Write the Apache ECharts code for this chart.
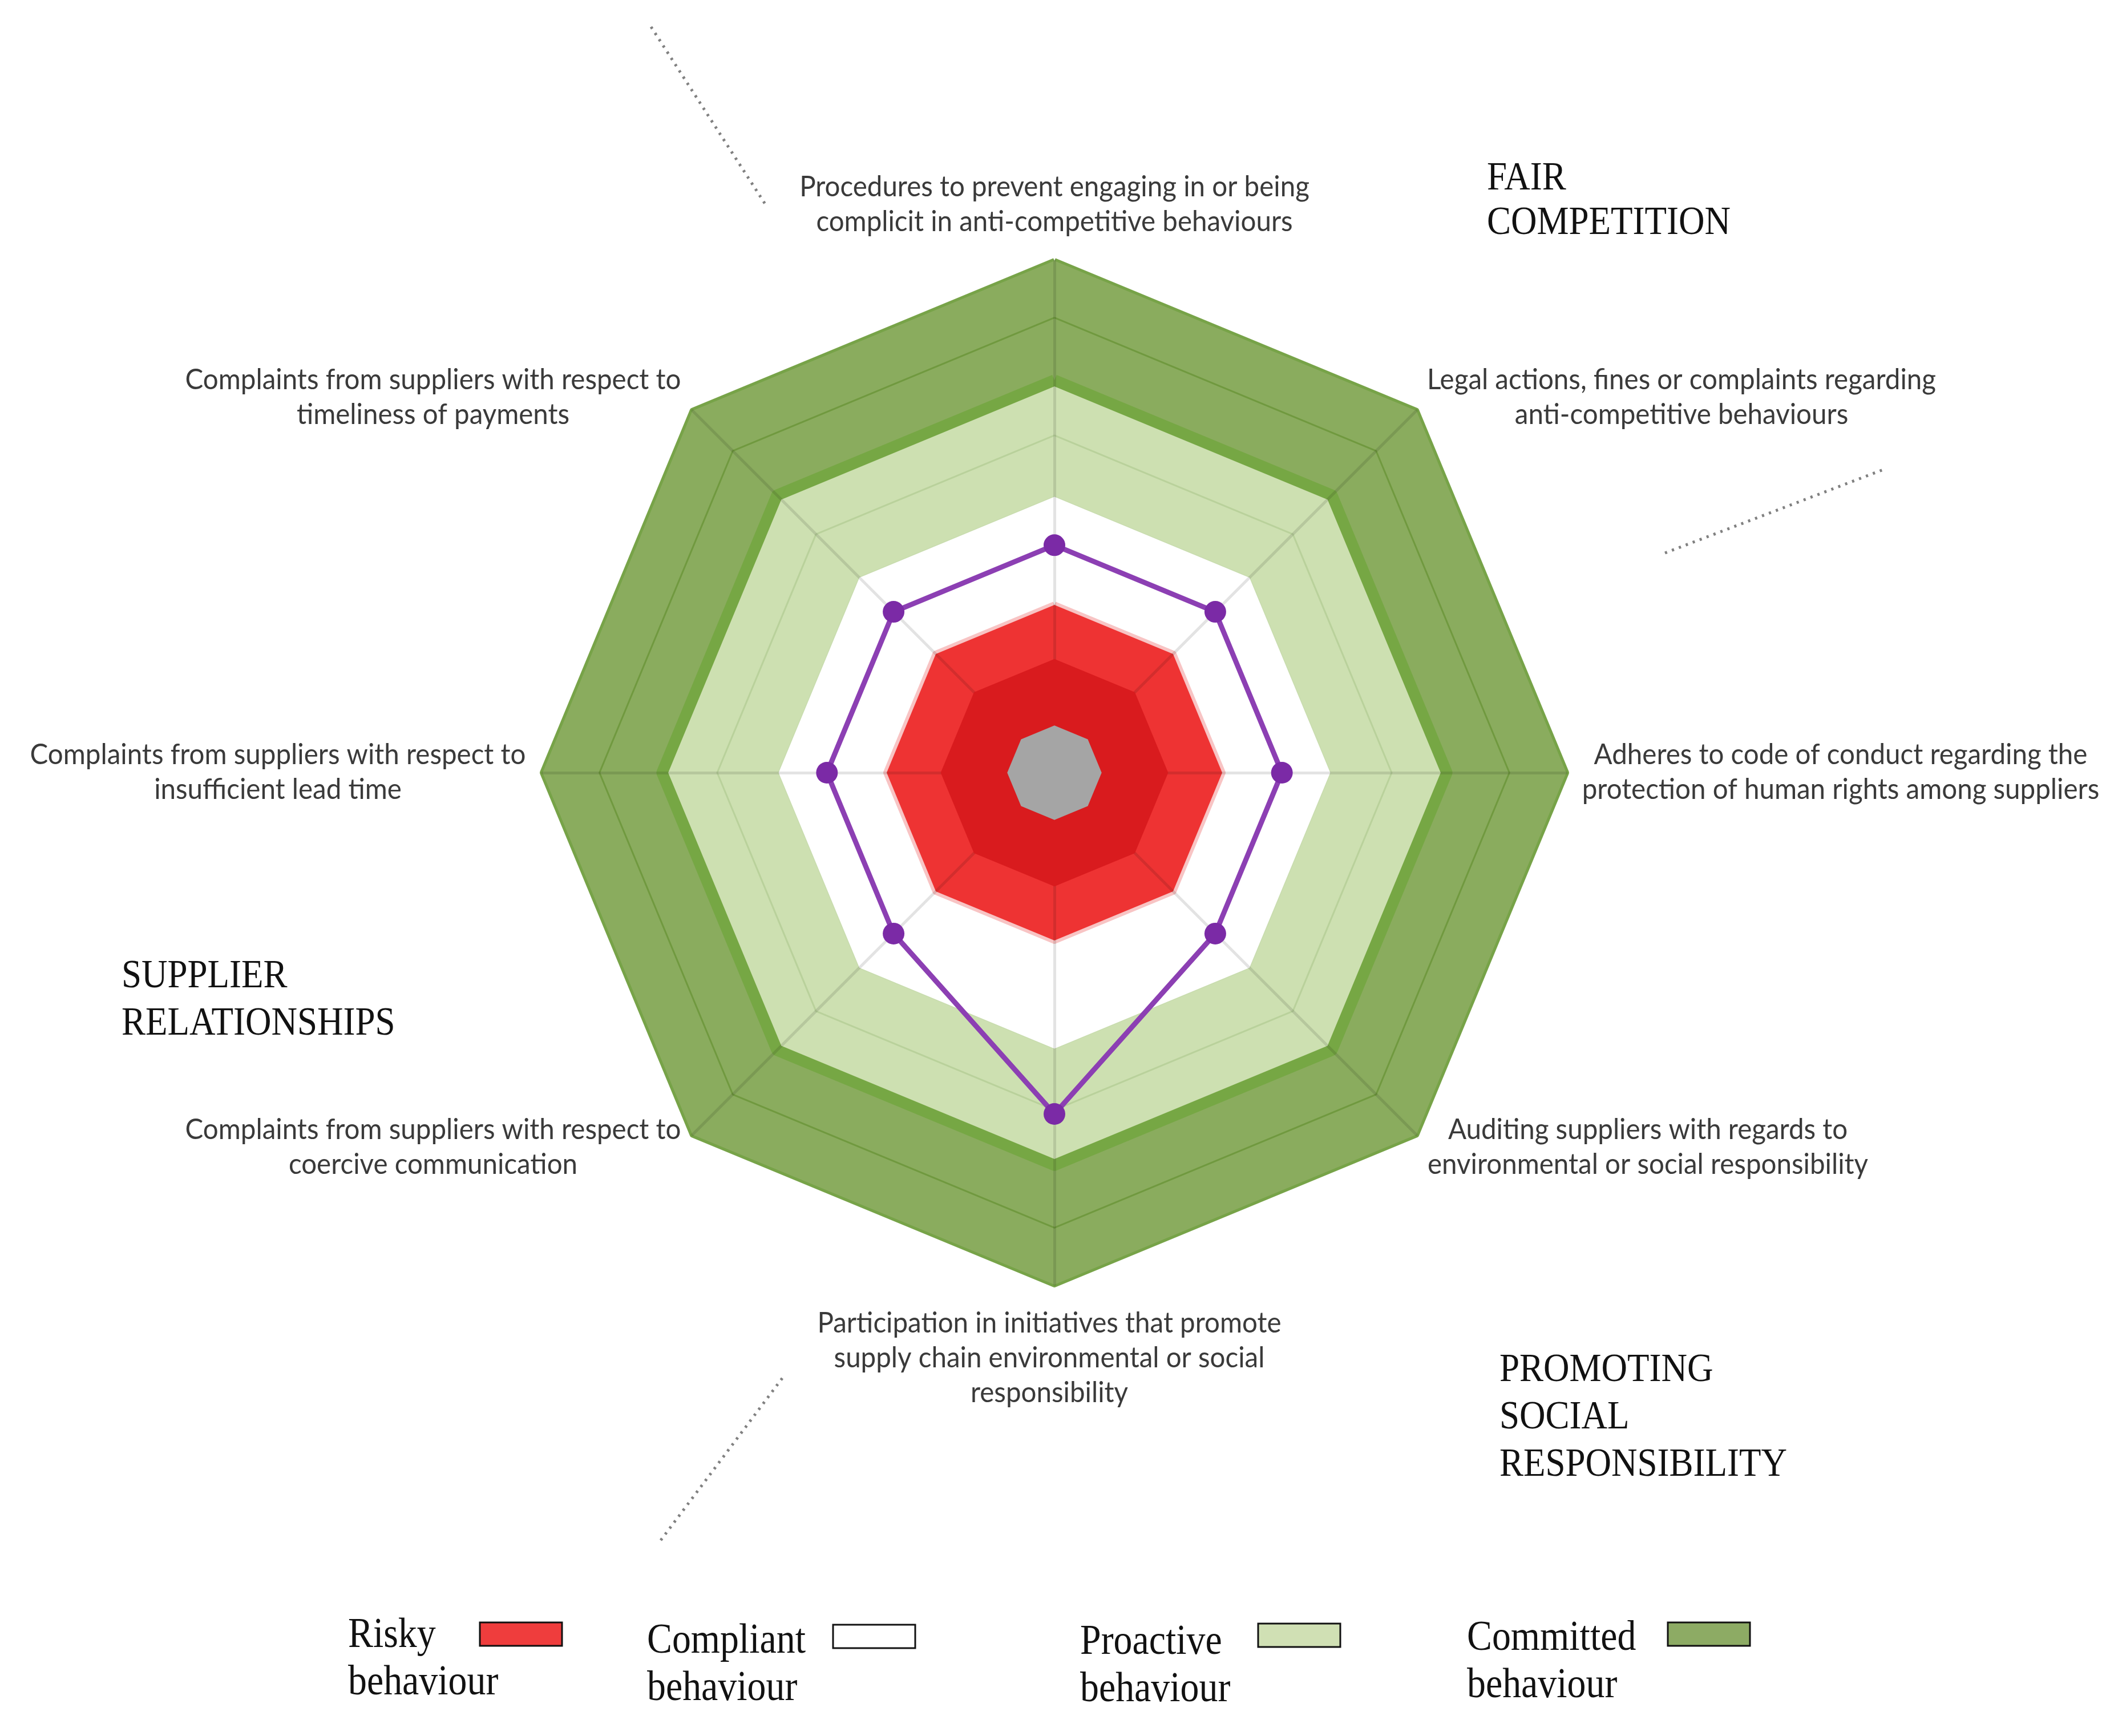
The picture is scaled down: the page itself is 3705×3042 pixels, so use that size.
<!DOCTYPE html>
<html>
<head>
<meta charset="utf-8">
<script src="https://cdn.jsdelivr.net/npm/echarts@6/dist/echarts.min.js"></script>
<style>
html, body { margin: 0; padding: 0; background: #fff; }
#chart { width: 3705px; height: 3042px; }
</style>
</head>
<body>
<div id="chart"></div>
<script>
// axes in the order echarts lays them out: top first, then anticlockwise
const categories = [
    'Procedures to prevent engaging in or being\ncomplicit in anti-competitive behaviours',
    'Complaints from suppliers with respect to\ntimeliness of payments',
    'Complaints from suppliers with respect to\ninsufficient lead time',
    'Complaints from suppliers with respect to\ncoercive communication',
    'Participation in initiatives that promote\nsupply chain environmental or social\nresponsibility',
    'Auditing suppliers with regards to\nenvironmental or social responsibility',
    'Adheres to code of conduct regarding the\nprotection of human rights among suppliers',
    'Legal actions, fines or complaints regarding\nanti-competitive behaviours'
]
const assessment = [4, 4, 4, 4, 6, 4, 4, 4]

// band limits (0-9 scale), same on every axis
const committedLevel = [9, 9, 9, 9, 9, 9, 9, 9]
const committedMid = [8, 8, 8, 8, 8, 8, 8, 8]
const proactiveLevel = [6.9, 6.9, 6.9, 6.9, 6.9, 6.9, 6.9, 6.9]
const proactiveMid = [5.93, 5.93, 5.93, 5.93, 5.93, 5.93, 5.93, 5.93]
const compliantLevel = [4.85, 4.85, 4.85, 4.85, 4.85, 4.85, 4.85, 4.85]
const riskyLevel = [2.95, 2.95, 2.95, 2.95, 2.95, 2.95, 2.95, 2.95]
const riskyInner = [2, 2, 2, 2, 2, 2, 2, 2]
const coreLevel = [0.83, 0.83, 0.83, 0.83, 0.83, 0.83, 0.83, 0.83]
const axisMax = 9

const groupNames = ['FAIR\nCOMPETITION', 'SUPPLIER\nRELATIONSHIPS', 'PROMOTING\nSOCIAL\nRESPONSIBILITY']
const legendNames = ['Risky\nbehaviour', 'Compliant\nbehaviour', 'Proactive\nbehaviour', 'Committed\nbehaviour']

// layout
const labelPos = [[1848, 358], [759, 696], [487, 1353], [759, 2010], [1839, 2380], [2888, 2010], [3226, 1353], [2947, 696]]
const groupPos = [[2606, 275, 78], [213, 1670, 83], [2628, 2360, 83]]
const legendPos = [[610, 2825], [1134, 2835], [1893, 2837], [2571, 2830]]
const legendBox = [[841, 2843], [1460, 2847], [2205, 2845], [2923, 2843]]
const legendFill = ['#ef3d3d', '#ffffff', '#d0e0b4', '#8dab64']
const dotLines = [[1141, 47, 1342, 359], [2918, 969, 3303, 822], [1371, 2415, 1158, 2699]]

const chart = echarts.init(document.getElementById('chart'))

const band = (data, z, line, area) => ({
    type: 'radar',
    silent: true,
    animation: false,
    z: z,
    symbol: 'none',
    lineStyle: line || { opacity: 0 },
    areaStyle: area ? { color: area, opacity: 1 } : undefined,
    data: [{ value: data }]
})

const graphics = []
categories.forEach((name, i) => {
    graphics.push({
        type: 'text', x: labelPos[i][0], y: labelPos[i][1], scaleX: 0.95, silent: true,
        style: {
            text: name, fill: '#3a3a3a', font: '50px Lato', lineHeight: 61,
            align: 'center', verticalAlign: 'middle'
        }
    })
})
groupNames.forEach((name, i) => {
    graphics.push({
        type: 'text', x: groupPos[i][0], y: groupPos[i][1], scaleX: 0.9, silent: true,
        style: {
            text: name, fill: '#111', font: '70px "Liberation Serif"', lineHeight: groupPos[i][2],
            align: 'left', verticalAlign: 'top'
        }
    })
})
legendNames.forEach((name, i) => {
    graphics.push({
        type: 'text', x: legendPos[i][0], y: legendPos[i][1], scaleX: 0.89, silent: true,
        style: {
            text: name, fill: '#111', font: '74px "Liberation Serif"', lineHeight: 83,
            align: 'left', verticalAlign: 'top'
        }
    })
    graphics.push({
        type: 'rect', silent: true,
        shape: { x: legendBox[i][0], y: legendBox[i][1], width: 144, height: 41 },
        style: { fill: legendFill[i], stroke: '#111', lineWidth: 3 }
    })
})
dotLines.forEach(l => {
    graphics.push({
        type: 'line', silent: true,
        shape: { x1: l[0], y1: l[1], x2: l[2], y2: l[3] },
        style: { stroke: '#808080', lineWidth: 5, lineDash: [4, 9] }
    })
})

const option = {
    backgroundColor: '#fff',
    animation: false,
    radar: {
        z: 3,
        center: [1848, 1354],
        radius: 897,
        shape: 'polygon',
        startAngle: 90,
        indicator: categories.map(name => ({ name: name, min: 0, max: axisMax })),
        axisName: { show: false },
        splitNumber: 9,
        splitLine: { show: false },
        splitArea: { show: false },
        axisTick: { show: false },
        axisLabel: { show: false },
        axisLine: { show: true, lineStyle: { color: 'rgba(0,0,0,0.11)', width: 5 } }
    },
    series: [
        band(committedLevel, 1, { color: '#77a348', width: 10, join: 'round' }, '#8aac5e'),
        band(proactiveLevel, 1, null, '#cde0b1'),
        band(compliantLevel, 1, { color: '#c8dcae', width: 3 }, '#ffffff'),
        band(riskyLevel, 1, { color: '#f8c4c4', width: 12, join: 'round' }, '#ee3333'),
        band(committedMid, 2, { color: '#70993f', width: 3 }),
        band(proactiveLevel, 2, { color: '#76a744', width: 20, join: 'round' }),
        band(proactiveMid, 2, { color: '#b9d19b', width: 3 }),
        band(riskyInner, 4, null, '#d91b1e'),
        band(coreLevel, 4, null, '#a5a5a5'),
        {
            type: 'radar',
            silent: true,
            animation: false,
            z: 5,
            symbol: 'circle',
            symbolSize: 38,
            itemStyle: { color: '#7b2aa6' },
            lineStyle: { color: '#8c3fb3', width: 9 },
            data: [{ value: assessment }]
        }
    ],
    graphic: graphics
}
chart.setOption(option)
</script>
</body>
</html>
